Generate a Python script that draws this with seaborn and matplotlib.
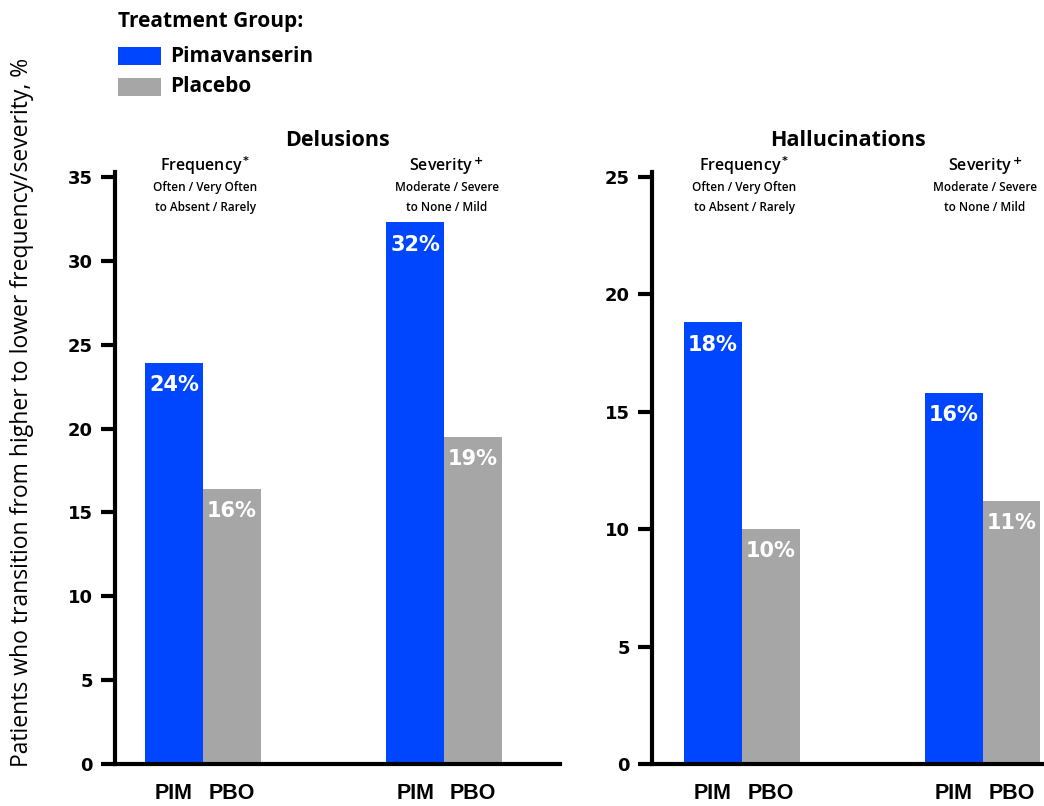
import matplotlib
matplotlib.use("Agg")
import matplotlib.pyplot as plt
import matplotlib.transforms as mtrans
from matplotlib.patches import Rectangle
import seaborn as sns
import pandas as pd

# ---- data ----
measures = ["Frequency", "Severity"]
treatments = ["Pimavanserin", "Placebo"]
tick_labels = ["PIM", "PBO"]
delusions_pim = [23.9, 32.3]
delusions_pbo = [16.4, 19.5]
halluc_pim = [18.8, 15.8]
halluc_pbo = [10.0, 11.2]
delusions_labels = [["24%", "32%"], ["16%", "19%"]]
halluc_labels = [["18%", "16%"], ["10%", "11%"]]
panel_titles = ["Delusions", "Hallucinations"]
sub_titles = ["Frequency", "Severity"]
sub_marks = ["*", "+"]
sub_lines = [["Often / Very Often", "to Absent / Rarely"],
             ["Moderate / Severe", "to None / Mild"]]
ylabel = "Patients who transition from higher to lower frequency/severity, %"

BLUE = "#0046ff"
GREY = "#a6a6a6"

sns.set_theme(style="white")
plt.rcParams["font.family"] = ["DejaVu Sans"]
for key in ["text.color", "axes.labelcolor", "xtick.color", "ytick.color"]:
    plt.rcParams[key] = "black"

fig = plt.figure(figsize=(10.44, 8.06), dpi=100)
ax1 = fig.add_axes([115/1044, 1-764/806, 445/1044, 592/806])
ax2 = fig.add_axes([652/1044, 1-764/806, 392/1044, 592/806])

panels = [
    (ax1, delusions_pim, delusions_pbo, delusions_labels, (0, 35.3), [0, 5, 10, 15, 20, 25, 30, 35], (-0.365, 1.48)),
    (ax2, halluc_pim, halluc_pbo, halluc_labels, (0, 25.2), [0, 5, 10, 15, 20, 25], (-0.373, 1.255)),
]

for i, (ax, pim, pbo, labels, ylim, yt, xlim) in enumerate(panels):
    df = pd.DataFrame({
        "measure": measures * 2,
        "treatment": [treatments[0]] * 2 + [treatments[1]] * 2,
        "value": pim + pbo,
    })
    sns.barplot(data=df, x="measure", y="value", hue="treatment",
                hue_order=treatments, order=measures,
                palette=[BLUE, GREY], width=0.48, saturation=1,
                linewidth=0, legend=False, ax=ax)
    ax.set_ylim(*ylim)
    ax.set_xlim(*xlim)
    ax.set_yticks(yt)
    ax.set_xlabel("")
    ax.set_ylabel("")
    for s in ["top", "right"]:
        ax.spines[s].set_visible(False)
    for s in ["left", "bottom"]:
        ax.spines[s].set_linewidth(3)
        ax.spines[s].set_color("black")
    ax.tick_params(axis="y", direction="out", length=10, width=3, color="black",
                   pad=6, labelsize=13, left=True, labelcolor="black")
    for t in ax.get_yticklabels():
        t.set_fontweight("bold")
    centers = []
    for container, labs in zip(ax.containers, labels):
        for bar, lab in zip(container, labs):
            cx = bar.get_x() + bar.get_width() / 2
            centers.append(cx)
            ax.annotate(lab, (cx, bar.get_height()), xytext=(0, -16),
                        textcoords="offset points", ha="center", va="center",
                        color="white", fontsize=15, fontweight="bold",
                        family="DejaVu Sans")
    centers = sorted(centers)
    ax.set_xticks(centers)
    ax.set_xticklabels(tick_labels * 2, fontsize=15.5, fontweight="bold",
                       family="Liberation Sans")
    ax.tick_params(axis="x", length=0, pad=14, bottom=False, labelcolor="black")
    ax.text(0.5, (764-140)/592, panel_titles[i], transform=ax.transAxes,
            ha="center", va="center", fontsize=15.5, fontweight="bold",
            family="Open Sans", color="black")
    trans = mtrans.blended_transform_factory(ax.transData, ax.transAxes)
    for j, m in enumerate(measures):
        gx = j + 0.01
        ax.text(gx, (764-166)/592, sub_titles[j] + r"$^{\bf " + sub_marks[j] + "}$",
                transform=trans, ha="center", va="center", fontsize=11.5,
                fontweight="semibold", family="Open Sans", color="black")
        ax.text(gx, (764-188)/592, sub_lines[j][0], transform=trans,
                ha="center", va="center", fontsize=8.5, fontweight="semibold",
                family="Open Sans", color="black")
        ax.text(gx, (764-208)/592, sub_lines[j][1], transform=trans,
                ha="center", va="center", fontsize=8.5, fontweight="semibold",
                family="Open Sans", color="black")

fig.text(22/1044, 1-412/806, ylabel, rotation=90, ha="center", va="center",
         fontsize=16.5, family="Open Sans", color="black")

fig.text(118/1044, 1-22/806, "Treatment Group:", ha="left", va="center",
         fontsize=15, fontweight="bold", family="Open Sans", color="black")
for k, (name, col) in enumerate(zip(treatments, [BLUE, GREY])):
    yc = 56 + 31 * k
    fig.patches.append(Rectangle((118/1044, 1-(yc+9)/806), 43/1044, 18/806,
                                 transform=fig.transFigure, facecolor=col,
                                 edgecolor="none"))
    fig.text(170/1044, 1-yc/806, name, ha="left", va="center",
             fontsize=15, fontweight="bold", family="Open Sans", color="black")

fig.savefig("out.png", dpi=100)
